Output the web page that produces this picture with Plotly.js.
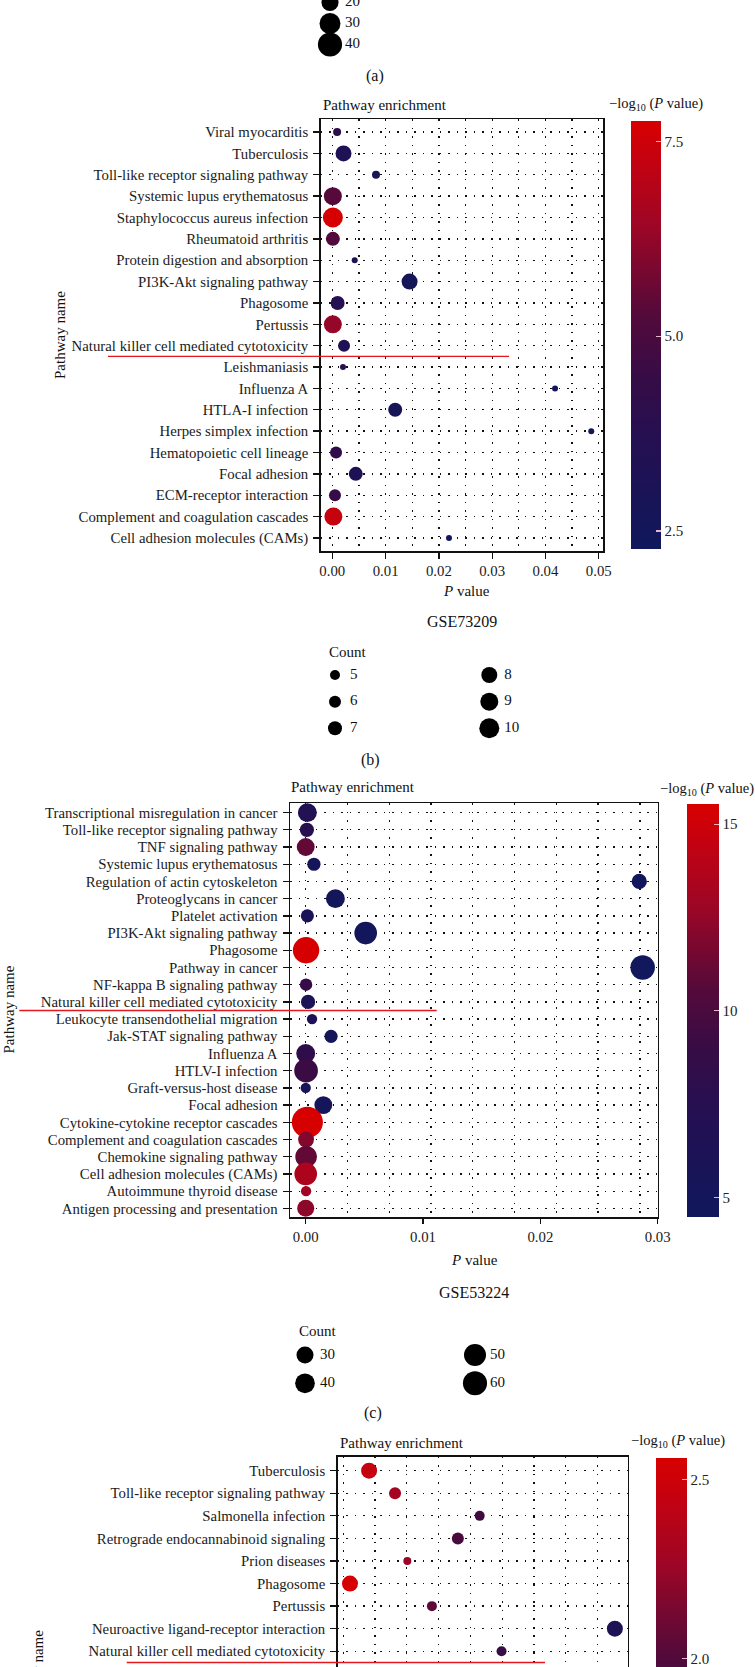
<!DOCTYPE html>
<html>
<head>
<meta charset="utf-8">
<script src="https://cdn.plot.ly/plotly-3.0.1.min.js"></script>
<style>
  body { margin: 0; background: #fff; }
  #wrap { width: 755px; height: 1667px; overflow: hidden; }
</style>
</head>
<body>
<div id="wrap"><div id="fig" style="width:755px;height:1900px"></div></div>
<script>
// panel (b) GSE73209
const bNames = ['Viral myocarditis', 'Tuberculosis', 'Toll-like receptor signaling pathway',
  'Systemic lupus erythematosus', 'Staphylococcus aureus infection', 'Rheumatoid arthritis',
  'Protein digestion and absorption', 'PI3K-Akt signaling pathway', 'Phagosome', 'Pertussis',
  'Natural killer cell mediated cytotoxicity', 'Leishmaniasis', 'Influenza A', 'HTLA-I infection',
  'Herpes simplex infection', 'Hematopoietic cell lineage', 'Focal adhesion',
  'ECM-receptor interaction', 'Complement and coagulation cascades', 'Cell adhesion molecules (CAMs)'];
const bPval = [0.0009, 0.0021, 0.0082, 0.0001, 0.0001, 0.0001, 0.0042, 0.0145, 0.0010, 0.0001,
  0.0022, 0.0020, 0.0418, 0.0118, 0.0486, 0.0007, 0.0044, 0.0005, 0.0002, 0.0219];
const bCount = [4, 8, 4, 9, 10, 7, 3, 8, 7, 9, 6, 3, 3, 7, 3, 6, 7, 6, 9, 3];
const bLogP = [4.0, 3.3, 2.8, 5.3, 7.7, 5.2, 3.0, 2.6, 3.7, 6.3, 3.3, 3.8, 2.4, 2.8, 2.3, 4.2, 3.3, 4.4, 7.3, 2.4];
const bLegend = [5, 6, 7, 8, 9, 10];
const bBarTicks = [2.5, 5.0, 7.5];
const bBarText = ['2.5', '5.0', '7.5'];

// panel (c) GSE53224
const cNames = ['Transcriptional misregulation in cancer', 'Toll-like receptor signaling pathway',
  'TNF signaling pathway', 'Systemic lupus erythematosus', 'Regulation of actin cytoskeleton',
  'Proteoglycans in cancer', 'Platelet activation', 'PI3K-Akt signaling pathway', 'Phagosome',
  'Pathway in cancer', 'NF-kappa B signaling pathway', 'Natural killer cell mediated cytotoxicity',
  'Leukocyte transendothelial migration', 'Jak-STAT signaling pathway', 'Influenza A',
  'HTLV-I infection', 'Graft-versus-host disease', 'Focal adhesion',
  'Cytokine-cytokine receptor cascades', 'Complement and coagulation cascades',
  'Chemokine signaling pathway', 'Cell adhesion molecules (CAMs)', 'Autoimmune thyroid disease',
  'Antigen processing and presentation'];
const cPval = [0.00014, 0.0001, 0.0000, 0.0007, 0.02843, 0.00253, 0.00014, 0.00511, 0.00003,
  0.02872, 0.00003, 0.0002, 0.00054, 0.00216, 0.0000, 0.00003, 0.0000, 0.0015, 0.00014,
  0.00003, 0.00003, 0.0000, 0.00003, 0.0000];
const cCount = [37, 21, 33, 18, 24, 37, 18, 53, 72, 62, 16, 21, 11, 18, 37, 58, 11, 33, 100, 26, 48, 53, 11, 30];
const cLogP = [7.0, 7.5, 11.0, 5.2, 4.8, 5.0, 6.0, 4.9, 15.5, 4.6, 8.8, 6.2, 6.3, 5.2, 8.3, 9.2,
  5.5, 5.3, 15.5, 12.0, 11.0, 13.5, 13.0, 12.3];
const cLegend = [30, 40, 50, 60];
const cBarTicks = [5, 10, 15];
const cXTicks = [0, 0.01, 0.02, 0.03];

// panel (d), visible rows only
const dNames = ['Tuberculosis', 'Toll-like receptor signaling pathway', 'Salmonella infection',
  'Retrograde endocannabinoid signaling', 'Prion diseases', 'Phagosome', 'Pertussis',
  'Neuroactive ligand-receptor interaction', 'Natural killer cell mediated cytotoxicity'];
const dPval = [0.0042, 0.0061, 0.0123, 0.0107, 0.0070, 0.0028, 0.0088, 0.0222, 0.0139];
const dCount = [8, 6, 5, 6, 4, 8, 5, 8, 5];
const dLogP = [2.45, 2.3, 1.9, 1.95, 2.25, 2.55, 2.05, 1.55, 1.85];
const dBarTicks = [2.0, 2.5];
const dBarText = ['2.0', '2.5'];

// panel (a) legend, only its lower part is in the picture
const aLegend = [20, 30, 40];

const W = 755, H = 1900;
const px = v => v / W;
const py = v => 1 - v / H;
const FONT = 'Liberation Serif, Times New Roman, serif';

const scale = [
  [0, '#10185c'], [0.1, '#181458'], [0.25, '#241052'], [0.4, '#360c46'],
  [0.55, '#540a3a'], [0.75, '#9c0626'], [0.9, '#c20212'], [1, '#d80000']
];
const dotGrid = '1.5px,7px';

function colorbar(left, top, len, thick, vals, text) {
  return {
    x: px(left), xanchor: 'left', y: py(top), yanchor: 'top',
    len: len, lenmode: 'pixels', thickness: thick, thicknessmode: 'pixels',
    xpad: 0, ypad: 0, outlinewidth: 0,
    tickvals: vals, ticktext: text,
    ticks: 'inside', ticklen: 5, tickwidth: 1.2, tickcolor: '#e8b6cc',
    tickfont: { family: FONT, size: 15, color: '#222' }
  };
}

function dots(names, pv, cnt, lp, xa, ya, sizemode, sizeref, cmin, cmax, cb) {
  return {
    type: 'scatter', mode: 'markers', x: pv, y: names, xaxis: xa, yaxis: ya,
    cliponaxis: false, hoverinfo: 'skip',
    marker: {
      size: cnt, sizemode: sizemode, sizeref: sizeref, color: lp, opacity: 1,
      colorscale: scale, cmin: cmin, cmax: cmax, showscale: true, colorbar: cb,
      line: { width: 0 }
    }
  };
}

// size legend: columns are 'gap' px apart, labels 'off' px right of the circle centre
function legendTraces(counts, rows, gap, off, xa, ya, sizemode, sizeref) {
  const cx = counts.map((c, i) => Math.floor(i / rows) * gap);
  const cy = counts.map((c, i) => i % rows);
  return [
    { type: 'scatter', mode: 'markers', x: cx, y: cy, xaxis: xa, yaxis: ya, cliponaxis: false,
      hoverinfo: 'skip',
      marker: { size: counts, sizemode: sizemode, sizeref: sizeref, color: '#000', opacity: 1,
        line: { width: 0 } } },
    { type: 'scatter', mode: 'text', x: cx.map(v => v + off), y: cy, xaxis: xa, yaxis: ya,
      cliponaxis: false, hoverinfo: 'skip',
      text: counts.map(String), textposition: 'middle right',
      textfont: { family: FONT, size: 15, color: '#111' } }
  ];
}

const data = [
  dots(bNames, bPval, bCount, bLogP, 'x', 'y', 'diameter', 0.5, 2.27, 7.76,
    colorbar(631, 121, 428, 30, bBarTicks, bBarText)),
  dots(cNames, cPval, cCount, cLogP, 'x2', 'y2', 'area', 1 / 4.84, 4.48, 15.54,
    colorbar(687, 804, 413, 32, cBarTicks, cBarTicks.map(String))),
  // carries the tick labels of panel (c)
  { type: 'scatter', mode: 'markers', x: [], y: [], xaxis: 'x4', yaxis: 'y2', hoverinfo: 'skip' },
  dots(dNames, dPval, dCount, dLogP, 'x3', 'y3', 'diameter', 0.5, 1.35, 2.56,
    colorbar(656, 1458, 433, 31, dBarTicks, dBarText)),
  ...legendTraces(aLegend, 3, 0, 15, 'x5', 'y5', 'area', 0.137),
  ...legendTraces(bLegend, 3, 154.3, 15, 'x6', 'y6', 'diameter', 0.5),
  ...legendTraces(cLegend, 2, 170, 15, 'x7', 'y7', 'area', 1 / 4.84)
];

const tickFont = { family: FONT, size: 14.8, color: '#1a1a1a' };

function catAxis(names, top, bottom, padTop, padBottom, anchor) {
  return {
    domain: [py(bottom), py(top)], anchor: anchor, type: 'category',
    categoryorder: 'array', categoryarray: names,
    range: [names.length - 1 + padBottom, -padTop],
    tickmode: 'linear', tick0: 0, dtick: 1,
    showline: true, mirror: true, linecolor: '#111', linewidth: 1.5,
    ticks: 'outside', ticklen: 6, tickwidth: 1.3, tickcolor: '#111', ticklabelstandoff: 2,
    showgrid: true, gridcolor: '#111', gridwidth: 1.3, griddash: dotGrid,
    zeroline: false, tickfont: tickFont
  };
}

// invisible axis for a size legend; x in px from the first circle, y in rows
function legendX(first, range) {
  return { visible: false, fixedrange: true, range: range,
    domain: [px(first + range[0]), px(first + range[1])] };
}
function legendY(top, bottom, rows) {
  return { visible: false, fixedrange: true, range: [rows - 1, 0],
    domain: [py(bottom), py(top)] };
}

const layout = {
  width: W, height: H,
  margin: { l: 0, r: 0, t: 0, b: 0 },
  paper_bgcolor: '#fff', plot_bgcolor: '#fff',
  showlegend: false,
  font: { family: FONT, color: '#111' },

  xaxis: {
    domain: [px(320.7), px(603)], anchor: 'y', range: [-0.00218, 0.0508],
    dtick: 0.01, tick0: 0, tickformat: '.2f',
    showline: true, mirror: true, linecolor: '#111', linewidth: 1.5,
    ticks: 'outside', ticklen: 6, tickwidth: 1.3, tickcolor: '#111',
    showgrid: true, gridcolor: '#111', gridwidth: 1.3, griddash: dotGrid,
    minor: { dtick: 0.005, tick0: 0, showgrid: true, gridcolor: '#111', gridwidth: 1.3, griddash: dotGrid, ticks: '' },
    zeroline: false, tickfont: tickFont
  },
  yaxis: catAxis(bNames, 119, 551, 0.61, 0.61, 'x'),

  xaxis2: {
    domain: [px(290), px(657.7)], anchor: 'y2', range: [-0.00134, 0.03],
    dtick: 0.00356, tick0: 0, showticklabels: false, ticks: '',
    showline: true, mirror: true, linecolor: '#111', linewidth: 1.5,
    showgrid: true, gridcolor: '#111', gridwidth: 1.3, griddash: dotGrid, zeroline: false
  },
  xaxis4: {
    overlaying: 'x2', anchor: 'y2', side: 'bottom', range: [-0.00134, 0.03],
    tickvals: cXTicks, tickformat: '.2f',
    ticks: 'outside', ticklen: 6, tickwidth: 1.3, tickcolor: '#111',
    showgrid: false, showline: false, zeroline: false, tickfont: tickFont
  },
  yaxis2: catAxis(cNames, 803, 1217.3, 0.56, 0.52, 'x2'),

  xaxis3: {
    domain: [px(337.7), px(627.7)], anchor: 'y3', range: [0.0019, 0.02314],
    dtick: 0.00233, tick0: 0.0023, showticklabels: false, ticks: '',
    showline: true, mirror: true, linecolor: '#111', linewidth: 1.5,
    showgrid: true, gridcolor: '#111', gridwidth: 1.3, griddash: dotGrid, zeroline: false
  },
  yaxis3: catAxis(dNames, 1456.7, 1891, 0.62, 10.62, 'x3'),

  xaxis5: legendX(330, [-20, 60]),
  yaxis5: legendY(2.5, 44.5, 3),
  xaxis6: legendX(335, [-20, 200]),
  yaxis6: legendY(675, 728.3, 3),
  xaxis7: legendX(305, [-20, 220]),
  yaxis7: legendY(1355, 1383.3, 2),

  shapes: [
    { type: 'line', xref: 'paper', yref: 'y', x0: px(108), x1: px(509), y0: 10.5, y1: 10.5,
      line: { color: '#e3171c', width: 1.4 } },
    { type: 'line', xref: 'paper', yref: 'y2', x0: px(19.3), x1: px(436.7), y0: 11.5, y1: 11.5,
      line: { color: '#e3171c', width: 1.4 } },
    { type: 'line', xref: 'paper', yref: 'y3', x0: px(126.7), x1: px(545), y0: 8.5, y1: 8.5,
      line: { color: '#e3171c', width: 1.4 } }
  ],
  annotations: []
};

function note(text, x, y, opts) {
  layout.annotations.push(Object.assign({
    text: text, xref: 'paper', yref: 'paper', x: px(x), y: py(y),
    xanchor: 'center', yanchor: 'middle', showarrow: false,
    font: { family: FONT, size: 15, color: '#111' }
  }, opts || {}));
}

const cbTitle = '\u2212log<sub>10</sub> (<i>P</i> value)';
const cbFont = { font: { family: FONT, size: 14.5, color: '#111' } };
const bigFont = { font: { family: FONT, size: 16, color: '#111' } };

note('(a)', 375, 76, bigFont);

note('Pathway enrichment', 320.7, 105, { xanchor: 'left' });
note(cbTitle, 656, 104, cbFont);
note('Pathway name', 60, 335, { textangle: -90 });
note('<i>P</i> value', 466.7, 591);
note('GSE73209', 461.7, 622, bigFont);
note('Count', 326.7, 652, { xanchor: 'left' });
note('(b)', 370, 760, bigFont);

note('Pathway enrichment', 289.3, 787.3, { xanchor: 'left' });
note(cbTitle, 707, 789, cbFont);
note('Pathway name', 8.5, 1010, { textangle: -90 });
note('<i>P</i> value', 474, 1260);
note('GSE53224', 474, 1292, bigFont);
note('Count', 296.7, 1331, { xanchor: 'left' });
note('(c)', 373, 1413, bigFont);

note('Pathway enrichment', 337.7, 1442.7, { xanchor: 'left' });
note(cbTitle, 678, 1441, cbFont);
note('Pathway name', 38, 1674, { textangle: -90 });

Plotly.newPlot('fig', data, layout, { displayModeBar: false, staticPlot: true });
</script>
</body>
</html>
